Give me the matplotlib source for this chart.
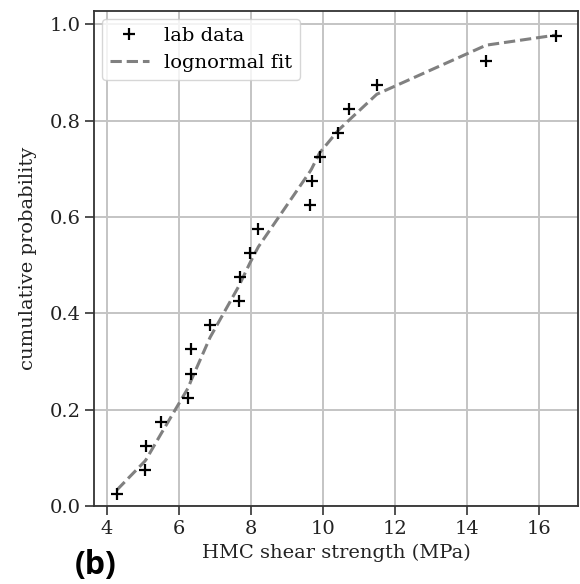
import matplotlib
matplotlib.use("Agg")
import matplotlib.pyplot as plt

# lab data (sorted shear strengths) and plotting positions
strength = [4.28, 5.06, 5.09, 5.51, 6.26, 6.33, 6.34, 6.87, 7.68, 7.71,
            7.98, 8.21, 9.65, 9.69, 9.91, 10.43, 10.74, 11.50, 14.54, 16.48]
cum_prob = [0.025, 0.075, 0.125, 0.175, 0.225, 0.275, 0.325, 0.375, 0.425, 0.475,
            0.525, 0.575, 0.625, 0.675, 0.725, 0.775, 0.825, 0.875, 0.925, 0.975]
# lognormal fit evaluated at the same strengths
fit_prob = [0.033, 0.093, 0.096, 0.150, 0.245, 0.258, 0.260, 0.350, 0.458, 0.463,
            0.505, 0.538, 0.695, 0.700, 0.733, 0.780, 0.802, 0.855, 0.957, 0.978]

plt.rcParams['font.family'] = 'DejaVu Serif'
plt.rcParams['font.size'] = 14

fig = plt.figure(figsize=(5.8, 5.84), dpi=100)
ax = fig.add_axes([0.1626, 0.1336, 0.8334, 0.8476])

ax.plot(strength, cum_prob, '+', color='black', markersize=9, markeredgewidth=1.6,
        label='lab data', zorder=3)
ax.plot(strength, fit_prob, '--', color='gray', linewidth=2.2, label='lognormal fit', zorder=2)

ax.set_xlim(3.656, 17.08)
ax.set_ylim(0, 1.028)
ax.set_xticks([4, 6, 8, 10, 12, 14, 16])
ax.set_yticks([0.0, 0.2, 0.4, 0.6, 0.8, 1.0])
ax.grid(color='#c4c4c4', linewidth=1.4)
ax.set_axisbelow(True)
for s in ax.spines.values():
    s.set_color('#333333')
    s.set_linewidth(1.3)
ax.tick_params(length=6.5, width=1.2, color='#333333', labelcolor='#222222')

ax.set_xlabel('HMC shear strength (MPa)', color='#222222')
ax.set_ylabel('cumulative probability', color='#222222', labelpad=9)
ax.legend(loc='upper left', fontsize=14, borderaxespad=0.4)

fig.text(0.129, 0.031, '(b)', family=['Open Sans', 'DejaVu Sans'], fontweight='bold',
         fontsize=23, va='center', ha='left')

fig.savefig('out.png', dpi=100)
